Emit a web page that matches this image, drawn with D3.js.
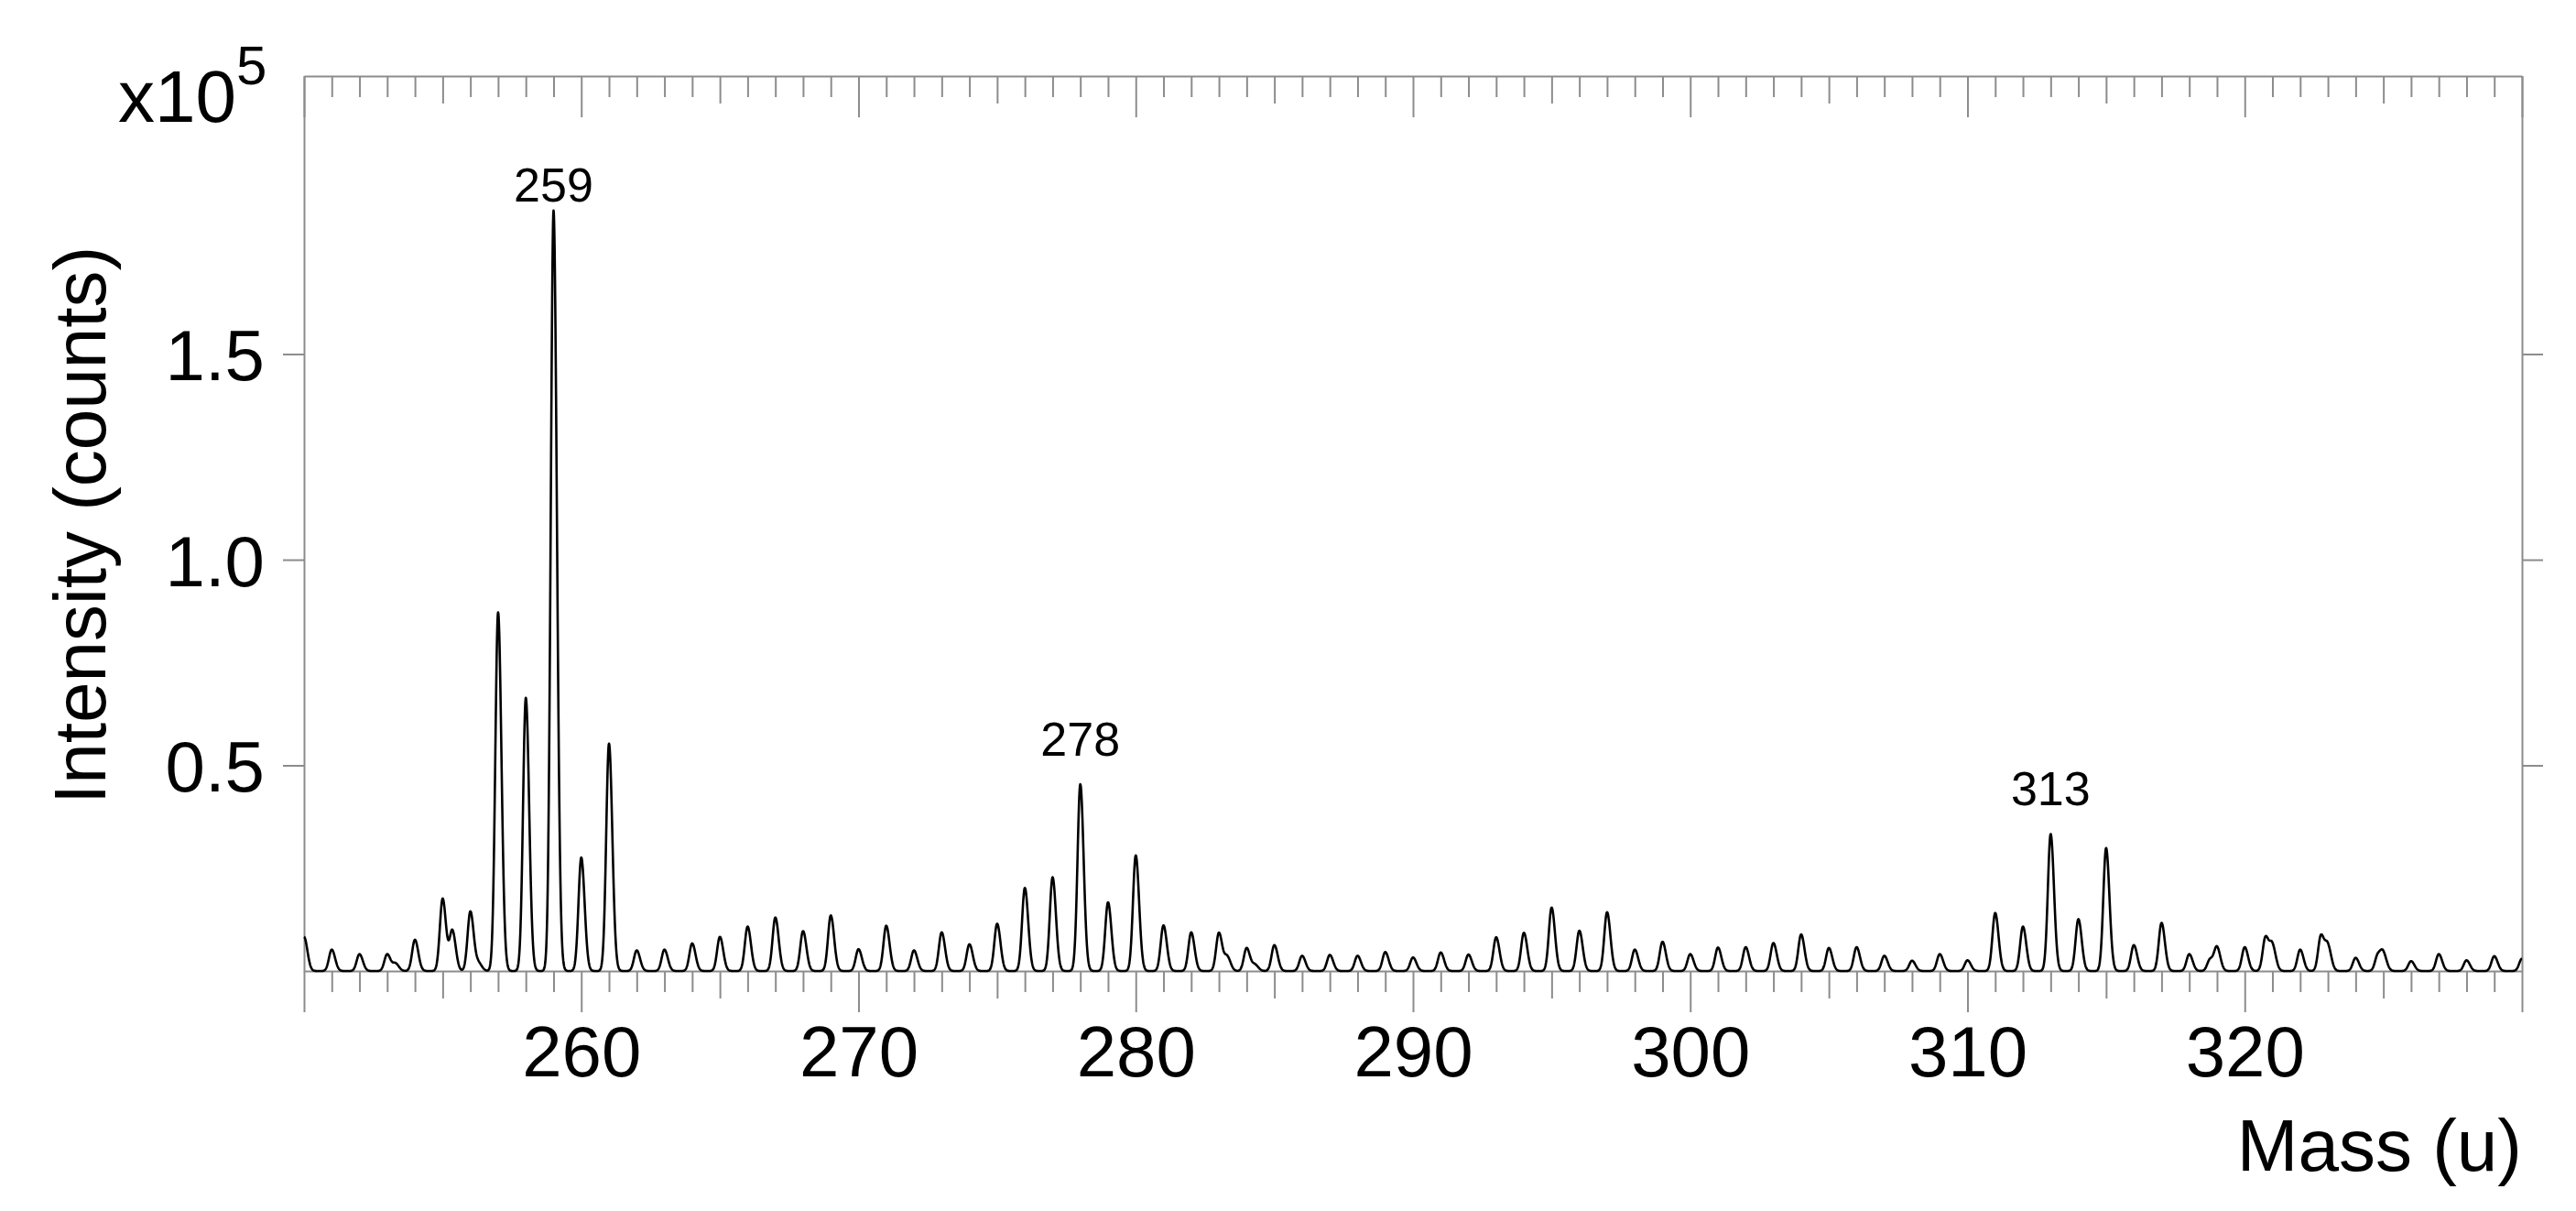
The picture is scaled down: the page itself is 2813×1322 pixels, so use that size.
<!DOCTYPE html>
<html><head><meta charset="utf-8">
<script src="https://cdn.jsdelivr.net/npm/d3@7/dist/d3.min.js"></script>
<style>
html,body{margin:0;padding:0;background:#fff;}
svg{display:block;font-family:"Liberation Sans",Arial,Helvetica,sans-serif;}
</style></head><body>
<svg id="chart" width="2813" height="1322"></svg>
<script>
// ---- data (intensity in units of 10^5 counts) ----
const masses = [250,251,252,253,254,255,256,257,258,259,260,261,262,263,264,265,266,267,268,269,
  270,271,272,273,274,275,276,277,278,279,280,281,282,283,284,285,286,287,288,289,
  290,291,292,293,294,295,296,297,298,299,300,301,302,303,304,305,306,307,308,309,
  310,311,312,313,314,315,316,317,318,319,320,321,322,323,324,325,326,327,328,329,330];
const intensities = [0.083,0.052,0.041,0.041,0.076,0.176,0.145,0.872,0.664,1.849,0.276,0.553,0.050,0.052,0.067,0.083,0.108,0.130,0.097,0.135,
  0.053,0.110,0.050,0.094,0.065,0.115,0.202,0.228,0.454,0.167,0.281,0.111,0.094,0.093,0.056,0.063,0.037,0.039,0.037,0.046,
  0.033,0.045,0.040,0.082,0.093,0.154,0.098,0.143,0.052,0.071,0.041,0.057,0.058,0.068,0.089,0.056,0.058,0.037,0.025,0.041,
  0.026,0.141,0.108,0.333,0.126,0.299,0.063,0.117,0.041,0.057,0.058,0.060,0.052,0.059,0.032,0.040,0.024,0.041,0.026,0.036,0.030];
// secondary (shoulder) peaks
const shoulderMasses = [253.3,255.35,256.3,283.3,284.3,318.75,320.75,322.75,324.8];
const shoulderIntensities = [0.018,0.098,0.018,0.034,0.015,0.028,0.082,0.086,0.038];
// annotated peaks
const labelMasses = [259,278,313];
// axes
const xDomain = [250,330];
const yDomain = [0,2.176];
const xTickValues = [250,260,270,280,290,300,310,320,330];
const yTickValues = [0.5,1.0,1.5];
const yTickLabels = ["0.5","1.0","1.5"];
const xTitle = "Mass (u)";
const yTitle = "Intensity (counts)";

// ---- layout / style ----
const L = 332, R = 2754, T = 83, B = 1060;
const axisColor = "#8c8c8c";
const svg = d3.select("#chart");
const x = d3.scaleLinear().domain(xDomain).range([L,R]);
const y = d3.scaleLinear().domain(yDomain).range([B,T]);

const allInts = d3.range(xDomain[0], xDomain[1]+1);
const minorT = allInts.filter(v => v % 5 !== 0);
const midT = allInts.filter(v => v % 5 === 0 && v % 10 !== 0);

function styleAxis(g){
  g.selectAll("path,line").attr("stroke",axisColor).attr("stroke-width",2);
  g.selectAll("text").attr("fill","#000").attr("font-family",'"Liberation Sans",Arial,sans-serif');
}
// bottom axis (outward ticks)
[[minorT,23],[midT,30]].forEach(([vals,len])=>{
  svg.append("g").attr("transform",`translate(0,${B})`)
    .call(d3.axisBottom(x).tickValues(vals).tickSize(len).tickSizeOuter(0).tickFormat(""))
    .call(g=>g.select(".domain").remove()).call(styleAxis);
});
const gxb = svg.append("g").attr("transform",`translate(0,${B})`)
  .call(d3.axisBottom(x).tickValues(xTickValues).tickSize(45).tickSizeOuter(0).tickPadding(15)
    .tickFormat(d => (d===250||d===330) ? "" : d))
  .call(styleAxis);
gxb.selectAll("text").attr("font-size",78);
// top axis (inward ticks)
[[minorT,23],[midT,30],[xTickValues,45]].forEach(([vals,len],i)=>{
  svg.append("g").attr("transform",`translate(0,${T})`)
    .call(d3.axisBottom(x).tickValues(vals).tickSize(len).tickSizeOuter(0).tickFormat(""))
    .call(g=>{ if(i<2) g.select(".domain").remove(); }).call(styleAxis);
});
// left axis
const gyl = svg.append("g").attr("transform",`translate(${L},0)`)
  .call(d3.axisLeft(y).tickValues(yTickValues).tickSize(23).tickSizeOuter(0).tickPadding(20)
    .tickFormat((d,i)=>yTickLabels[i]))
  .call(styleAxis);
gyl.selectAll("text").attr("font-size",78).attr("dy","0.36em");
// right axis
svg.append("g").attr("transform",`translate(${R},0)`)
  .call(d3.axisRight(y).tickValues(yTickValues).tickSize(23).tickSizeOuter(0).tickFormat(""))
  .call(styleAxis);

// ---- spectrum line: sum of peak profiles at the read-off masses/intensities ----
const peaks = masses.map((m,i)=>({m, h:intensities[i]}))
  .concat(shoulderMasses.map((m,i)=>({m, h:shoulderIntensities[i]})));
const sL = 0.10, sR = 0.12;
function profile(t){
  let s = 0;
  for(const p of peaks){
    const d = t - p.m;
    if (Math.abs(d) > 0.9) continue;
    const sg = d < 0 ? sL : sR;
    s += p.h * Math.exp(-0.5*(d/sg)*(d/sg));
  }
  return s;
}
const samples = d3.range(xDomain[0], xDomain[1]+0.0001, 0.01).map(t=>[t, profile(t)]);
svg.append("path").datum(samples)
  .attr("fill","none").attr("stroke","#000").attr("stroke-width",2.6).attr("stroke-linejoin","round")
  .attr("d", d3.line().x(d=>x(d[0])).y(d=>y(d[1])));

// ---- peak labels ----
const labelGap = [10,31,31];
svg.selectAll("text.peak").data(labelMasses).join("text").attr("class","peak")
  .attr("x", d=>x(d))
  .attr("y", (d,i)=>y(intensities[masses.indexOf(d)]) - labelGap[i])
  .attr("text-anchor","middle").attr("font-size",52).attr("fill","#000")
  .text(d=>d);

// ---- titles ----
svg.append("text").attr("x",R).attr("y",1278).attr("text-anchor","end")
  .attr("font-size",80).attr("fill","#000").text(xTitle);
svg.append("text").attr("transform",`translate(115,878) rotate(-90)`).attr("text-anchor","start")
  .attr("font-size",80).attr("fill","#000").text(yTitle);
const mult = svg.append("text").attr("x",129).attr("y",133).attr("font-size",80).attr("fill","#000");
mult.append("tspan").text("x10");
mult.append("tspan").attr("dy",-41).attr("font-size",60).text("5");
</script>
</body></html>
